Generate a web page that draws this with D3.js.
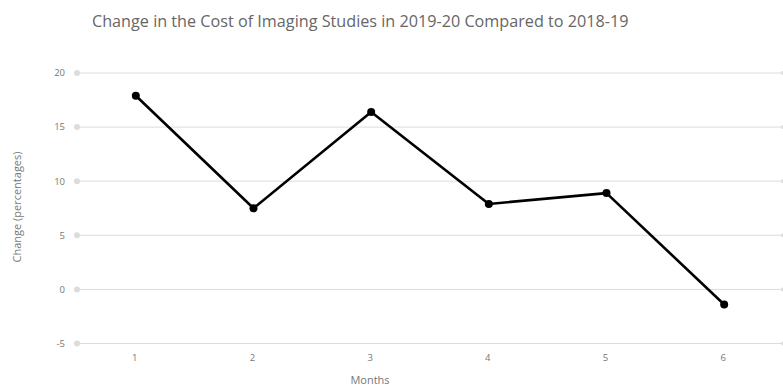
<!DOCTYPE html>
<html>
<head>
<meta charset="utf-8">
<script src="https://cdn.jsdelivr.net/npm/d3@7"></script>
<style>
  html, body { margin: 0; padding: 0; background: #fff; }
  svg { display: block; font-family: "Open Sans", sans-serif; }
</style>
</head>
<body>
<svg id="chart" width="783" height="390"></svg>
<script>
// Monthly change in imaging study cost, 2019-20 vs 2018-19
const months = ["1", "2", "3", "4", "5", "6"];
const changeValues = [17.9, 7.5, 16.4, 7.9, 8.9, -1.4];
const yTicks = [-5, 0, 5, 10, 15, 20];

(function draw() {
  const svg = d3.select("#chart");
  const plotLeft = 77, plotRight = 783, plotTop = 73, plotBottom = 343.5;

  const x = d3.scaleBand().domain(months).range([plotLeft, plotRight]);
  const y = d3.scaleLinear().domain([-5, 20]).range([plotBottom, plotTop]);

  // title
  svg.append("text")
    .attr("x", 92).attr("y", 27)
    .attr("font-size", 16.2)
    .attr("fill", "#666")
    .text("Change in the Cost of Imaging Studies in 2019-20 Compared to 2018-19");

  // horizontal gridlines with end dots
  const grid = svg.append("g");
  grid.selectAll("line").data(yTicks).join("line")
    .attr("x1", plotLeft + 3).attr("x2", plotRight)
    .attr("y1", d => y(d)).attr("y2", d => y(d))
    .attr("stroke", "#dcdcdc").attr("stroke-width", 1);
  grid.selectAll("circle.l").data(yTicks).join("circle")
    .attr("class", "l")
    .attr("cx", plotLeft).attr("cy", d => y(d)).attr("r", 3)
    .attr("fill", "#dcdcdc");
  grid.selectAll("circle.r").data(yTicks).join("circle")
    .attr("class", "r")
    .attr("cx", plotRight).attr("cy", d => y(d)).attr("r", 2)
    .attr("fill", "#dcdcdc");

  // y tick labels
  svg.append("g").selectAll("text").data(yTicks).join("text")
    .attr("x", 65).attr("y", d => y(d)).attr("dy", "0.35em")
    .attr("text-anchor", "end")
    .attr("font-size", 9.5).attr("fill", "#777")
    .text(d => d);

  // x tick labels
  svg.append("g").selectAll("text").data(months).join("text")
    .attr("x", d => x(d) + x.bandwidth() / 2 - 1)
    .attr("y", 361)
    .attr("text-anchor", "middle")
    .attr("font-size", 9.5).attr("fill", "#777")
    .text(d => d);

  // axis titles
  svg.append("text")
    .attr("x", 370).attr("y", 384)
    .attr("text-anchor", "middle")
    .attr("font-size", 11).attr("fill", "#777")
    .text("Months");
  svg.append("text")
    .attr("transform", "translate(21,207) rotate(-90)")
    .attr("text-anchor", "middle")
    .attr("font-size", 11).attr("fill", "#777")
    .text("Change (percentages)");

  // data line and markers
  const pts = months.map((m, i) => [x(m) + x.bandwidth() / 2, y(changeValues[i])]);
  svg.append("path")
    .datum(pts)
    .attr("d", d3.line())
    .attr("fill", "none")
    .attr("stroke", "#000")
    .attr("stroke-width", 2.6)
    .attr("stroke-linejoin", "round");
  svg.append("g").selectAll("circle").data(pts).join("circle")
    .attr("cx", d => d[0]).attr("cy", d => d[1]).attr("r", 4)
    .attr("fill", "#000");
})();
</script>
</body>
</html>
